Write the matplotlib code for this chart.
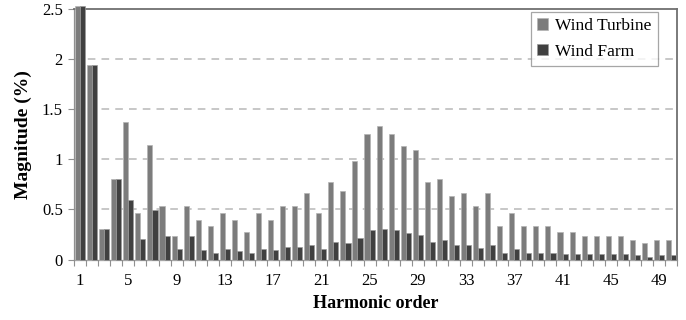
import numpy as np
import matplotlib.pyplot as plt

plt.rcParams['font.family'] = ['Liberation Serif', 'DejaVu Serif']

harmonics = np.arange(1, 51)
wind_turbine = [2.53, 1.94, 0.30, 0.80, 1.37, 0.46, 1.14, 0.53, 0.23, 0.53,
                0.39, 0.33, 0.46, 0.39, 0.27, 0.46, 0.39, 0.53, 0.53, 0.66,
                0.46, 0.77, 0.68, 0.98, 1.25, 1.33, 1.25, 1.13, 1.09, 0.77,
                0.80, 0.63, 0.66, 0.53, 0.66, 0.33, 0.46, 0.33, 0.33, 0.33,
                0.27, 0.27, 0.23, 0.23, 0.23, 0.23, 0.19, 0.16, 0.19, 0.19]
wind_farm = [2.53, 1.94, 0.30, 0.80, 0.59, 0.20, 0.49, 0.23, 0.10, 0.23,
             0.09, 0.07, 0.10, 0.085, 0.065, 0.10, 0.09, 0.12, 0.12, 0.145,
             0.10, 0.17, 0.16, 0.21, 0.29, 0.30, 0.29, 0.26, 0.245, 0.17,
             0.19, 0.145, 0.145, 0.115, 0.145, 0.07, 0.10, 0.07, 0.07, 0.07,
             0.06, 0.06, 0.06, 0.06, 0.06, 0.06, 0.045, 0.03, 0.045, 0.045]
tick_labels = list(range(1, 51, 4))

fig = plt.figure(figsize=(6.86, 3.2), dpi=100)
ax = fig.add_axes([0.108, 0.189, 0.879, 0.783])

w = 0.42
ax.bar(harmonics - w / 2, wind_turbine, w, color='#7c7c7c', edgecolor='#b4b4b4',
       linewidth=0.5, label='Wind Turbine', clip_on=False, zorder=3)
ax.bar(harmonics + w / 2, wind_farm, w, color='#404040', edgecolor='#9a9a9a',
       linewidth=0.5, label='Wind Farm', clip_on=False, zorder=3)

# dashed guide lines, the top one is the frame
for y in [0.5, 1.0, 1.5, 2.0]:
    ax.axhline(y, color='#b8b8b8', lw=1.1, dashes=(5, 4), zorder=1)

ax.set_xlim(0.5, 50.5)
ax.set_ylim(0, 2.5)
ax.set_yticks([0, 0.5, 1, 1.5, 2, 2.5])
ax.set_yticklabels(['0', '0.5', '1', '1.5', '2', '2.5'])
ax.set_xticks(tick_labels)
ax.set_xticks(np.arange(0.5, 51, 1), minor=True)
ax.tick_params(axis='x', which='major', length=0, labelsize=12, pad=10)
ax.tick_params(axis='x', which='minor', length=4, color='#909090', width=0.8)
ax.tick_params(axis='y', length=4, color='#909090', width=0.8, labelsize=12, pad=4)

for side in ['top', 'right']:
    ax.spines[side].set_color('#707070')
    ax.spines[side].set_linewidth(1.3)
for side in ['left', 'bottom']:
    ax.spines[side].set_color('#909090')
    ax.spines[side].set_linewidth(0.9)

ax.set_xlabel('Harmonic order', fontsize=13, fontweight='bold', labelpad=4)
ax.set_ylabel('Magnitude (%)', fontsize=14, fontweight='bold', labelpad=7)

leg = ax.legend(loc='upper right', bbox_to_anchor=(0.968, 0.988), fontsize=12.5,
                frameon=True, fancybox=False, edgecolor='#909090',
                handlelength=0.65, handleheight=0.65, handletextpad=0.4,
                borderpad=0.35, labelspacing=0.55, borderaxespad=0)
leg.get_frame().set_linewidth(0.9)
leg.set_zorder(5)

fig.savefig('out.png', dpi=100)
